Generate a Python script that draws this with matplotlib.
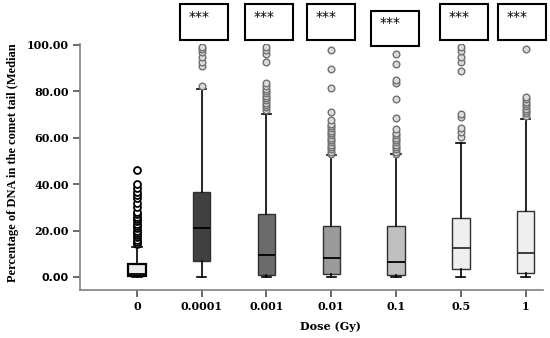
import numpy as np
import matplotlib
matplotlib.use("Agg")
import matplotlib.pyplot as plt
from matplotlib.patches import Rectangle

# dose groups
doses = ["0", "0.0001", "0.001", "0.01", "0.1", "0.5", "1"]

# box statistics (% DNA in tail)
q1 = [0.3, 7.0, 0.9, 1.2, 0.9, 3.3, 1.9]
med = [1.2, 21.2, 9.4, 8.3, 6.6, 12.3, 10.4]
q3 = [5.6, 36.6, 27.3, 21.9, 21.9, 25.2, 28.5]
whislo = [0.0, 0.0, 0.0, 0.0, 0.0, 0.0, 0.0]
whishi = [13.0, 81.0, 70.2, 52.4, 52.8, 57.8, 68.1]

# outliers
fliers = [
    [14, 15, 16, 17, 18, 19, 20, 21, 22, 23, 24, 25, 26, 27, 28,
     30.2, 31.9, 33.8, 35.2, 36.6, 38.5, 40.2, 46.2],
    [82.4, 91, 92.4, 94.5, 96.7, 98, 99],
    [72, 73, 74, 75, 76, 77, 78, 79, 80, 81, 82, 83.5, 92.4, 96.1, 97.6, 99],
    [53, 54, 55, 56, 57, 58, 59, 60, 61, 62, 63, 64, 65, 66, 67.5,
     71, 81.2, 89.6, 97.9],
    [53, 54, 55, 56, 57, 58, 59, 60, 61, 62, 63.8, 68.4, 76.7,
     83.7, 84.7, 91.7, 96],
    [60.2, 62.4, 64.1, 68.8, 70.3, 88.5, 92.7, 94.8, 97.4, 98.8],
    [69.5, 70.5, 71.5, 72.5, 73.5, 74.5, 75.5, 76.5, 77.5, 98.2],
]

box_colors = ["#ececec", "#404040", "#6b6b6b", "#9b9b9b", "#c0c0c0", "#efefef", "#efefef"]

# significance labels above each irradiated group
sig_labels = ["", "***", "***", "***", "***", "***", "***"]
sig_drop = [0, 0, 0, 0, 2.6, 0, 0]
sig_shift = [0, 0.02, 0.03, -0.01, -0.03, 0.04, -0.07]

fig = plt.figure(figsize=(5.5, 3.38), dpi=100)
ax = fig.add_axes([80 / 550, 48 / 338, 463 / 550, 246.5 / 338])

pos = np.arange(len(doses))
stats = []
for i in range(len(doses)):
    stats.append(dict(med=med[i], q1=q1[i], q3=q3[i], whislo=whislo[i],
                      whishi=whishi[i], fliers=fliers[i]))

for i in range(len(doses)):
    if i == 0:
        edge = "black"
        flier = dict(marker="o", markersize=5, markerfacecolor="white",
                     markeredgecolor="black", markeredgewidth=1.3)
    else:
        edge = "#303030"
        flier = dict(marker="o", markersize=4.8, markerfacecolor="#dcdcdc",
                     markeredgecolor="#707070", markeredgewidth=1.0)
    medcol = "black" if i < 5 else "#303030"
    ax.bxp([stats[i]], positions=[pos[i]], widths=0.27, capwidths=0.14,
           patch_artist=True,
           boxprops=dict(facecolor=box_colors[i], edgecolor=edge,
                         linewidth=1.6 if i == 0 else 1.0),
           medianprops=dict(color=medcol, linewidth=1.3),
           whiskerprops=dict(color="black", linewidth=1.2),
           capprops=dict(color="black", linewidth=1.2),
           flierprops=flier)

ax.set_xlim(-0.88, 6.27)
ax.set_ylim(-5.6, 100.5)
ax.set_yticks([0, 20, 40, 60, 80, 100])
ax.set_yticklabels(["%.2f" % v for v in [0, 20, 40, 60, 80, 100]])
ax.set_xticks(pos)
ax.set_xticklabels(doses)

for lab in ax.get_xticklabels() + ax.get_yticklabels():
    lab.set_fontfamily("DejaVu Serif")
    lab.set_fontweight("bold")
    lab.set_fontsize(8)
ax.get_yticklabels()[0].set_fontfamily("DejaVu Sans")

for s in ["top", "right"]:
    ax.spines[s].set_visible(False)
for s in ["left", "bottom"]:
    ax.spines[s].set_color("#808080")
    ax.spines[s].set_linewidth(1.2)
ax.tick_params(axis="both", direction="out", length=5, width=1.2,
               color="#505050", pad=3)

# significance boxes
for i in range(1, len(doses)):
    top = 117.3 - sig_drop[i]
    x0 = pos[i] + sig_shift[i] - 0.36
    r = Rectangle((x0, top - 15.2), 0.74, 15.2, fill=False,
                  edgecolor="black", linewidth=1.5, clip_on=False)
    ax.add_patch(r)
    ax.text(x0 + 0.13, top - 5.3, sig_labels[i], fontsize=10,
            family="DejaVu Sans", ha="left", va="center", clip_on=False)

fig.text(13 / 550, 1 - 163 / 338, "Percentage of DNA in the comet tail (Median",
         rotation=90, ha="center", va="center", family="Liberation Serif",
         fontweight="bold", fontsize=9)
fig.text(330 / 550, 1 - 326 / 338, "Dose (Gy)", ha="center", va="center",
         family="DejaVu Serif", fontweight="bold", fontsize=8)

fig.savefig("out.png", dpi=100)
